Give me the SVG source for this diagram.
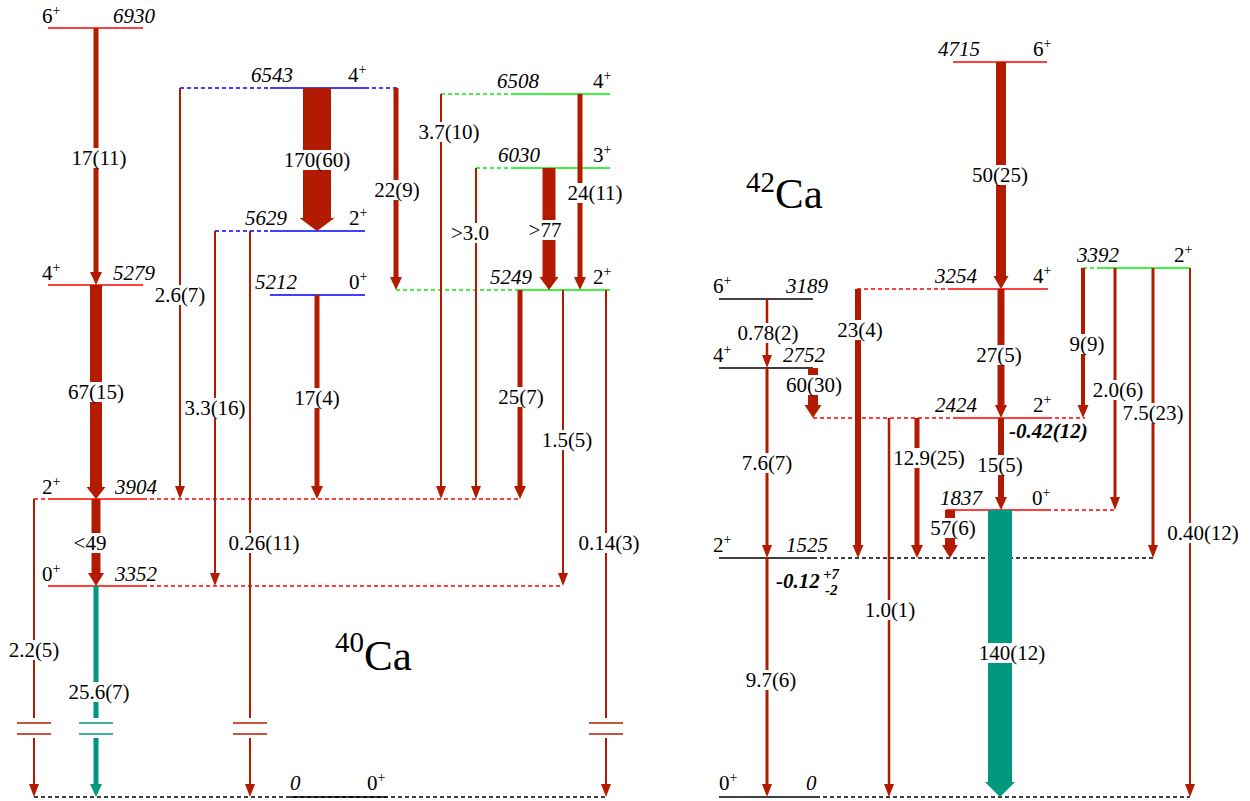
<svg xmlns="http://www.w3.org/2000/svg" width="1250" height="801" viewBox="0 0 1250 801">
<style>
text{font-family:"Liberation Serif","Times New Roman",serif;font-size:21px;fill:#000}
.e{font-style:italic}
.lbl{text-anchor:middle}
.end{text-anchor:end}
.bi{font-weight:bold;font-style:italic}
.sm{font-size:15px}
.big{font-size:43px}
.r{stroke:#ff0000;stroke-width:1.6;fill:none}
.b{stroke:#0000ff;stroke-width:1.6;fill:none}
.g{stroke:#00f000;stroke-width:1.6;fill:none}
.k{stroke:#000;stroke-width:1.6;fill:none}
.d{stroke-dasharray:4,3}
.ar{stroke:#b31b00;fill:none}
.ah{fill:#b31b00}
.tl{stroke:#009980;fill:none}
.th{fill:#009980}
.bg{fill:#fff}
</style>
<rect width="1250" height="801" fill="#fff"/>

<!-- 40Ca levels -->
<g id="ca40-6930"><line class="r" x1="48" y1="28" x2="143" y2="28"/><text x="42" y="23">6<tspan font-size="14" dy="-8">+</tspan></text><text class="e end" x="155" y="23">6930</text></g>
<g id="ca40-5279"><line class="r" x1="48" y1="285" x2="143" y2="285"/><text x="42" y="280">4<tspan font-size="14" dy="-8">+</tspan></text><text class="e end" x="155" y="280">5279</text></g>
<g id="ca40-3904"><line class="r d" x1="34" y1="499" x2="48" y2="499"/><line class="r" x1="48" y1="499" x2="143" y2="499"/><line class="r d" x1="143" y1="499" x2="520" y2="499"/><text x="42" y="494">2<tspan font-size="14" dy="-8">+</tspan></text><text class="e end" x="157" y="494">3904</text></g>
<g id="ca40-3352"><line class="r" x1="48" y1="586" x2="143" y2="586"/><line class="r d" x1="143" y1="586" x2="563" y2="586"/><text x="42" y="581">0<tspan font-size="14" dy="-8">+</tspan></text><text class="e end" x="157" y="581">3352</text></g>
<g id="ca40-6543"><line class="b d" x1="180" y1="88" x2="270" y2="88"/><line class="b" x1="270" y1="88" x2="365" y2="88"/><line class="b d" x1="365" y1="88" x2="397" y2="88"/><text class="e end" x="293" y="82">6543</text><text x="348" y="82">4<tspan font-size="14" dy="-8">+</tspan></text></g>
<g id="ca40-5629"><line class="b d" x1="215" y1="231" x2="270" y2="231"/><line class="b" x1="270" y1="231" x2="365" y2="231"/><text class="e end" x="287" y="225">5629</text><text x="349" y="225">2<tspan font-size="14" dy="-8">+</tspan></text></g>
<g id="ca40-5212"><line class="b" x1="270" y1="295" x2="365" y2="295"/><text class="e end" x="297" y="289">5212</text><text x="349" y="289">0<tspan font-size="14" dy="-8">+</tspan></text></g>
<g id="ca40-6508"><line class="g d" x1="441" y1="94" x2="515" y2="94"/><line class="g" x1="515" y1="94" x2="610" y2="94"/><text class="e end" x="539" y="88">6508</text><text x="593" y="88">4<tspan font-size="14" dy="-8">+</tspan></text></g>
<g id="ca40-6030"><line class="g d" x1="476" y1="168" x2="513" y2="168"/><line class="g" x1="513" y1="168" x2="610" y2="168"/><text class="e end" x="540" y="162">6030</text><text x="593" y="162">3<tspan font-size="14" dy="-8">+</tspan></text></g>
<g id="ca40-5249"><line class="g d" x1="396" y1="290" x2="515" y2="290"/><line class="g" x1="515" y1="290" x2="610" y2="290"/><text class="e end" x="532" y="284">5249</text><text x="593" y="284">2<tspan font-size="14" dy="-8">+</tspan></text></g>
<g id="ca40-0"><line class="k d" x1="34" y1="797" x2="606" y2="797"/><line class="k" x1="290" y1="797" x2="387" y2="797"/><text class="e" x="290" y="790">0</text><text x="367" y="790">0<tspan font-size="14" dy="-8">+</tspan></text></g>
<g id="ca40-title"><text class="big" x="335" y="670"><tspan font-size="29" dy="-18">40</tspan><tspan dy="18">Ca</tspan></text></g>

<!-- 42Ca levels -->
<g id="ca42-4715"><line class="r" x1="953" y1="62" x2="1047" y2="62"/><text class="e end" x="980" y="56">4715</text><text x="1033" y="56">6<tspan font-size="14" dy="-8">+</tspan></text></g>
<g id="ca42-3254"><line class="r d" x1="857" y1="289" x2="952" y2="289"/><line class="r" x1="952" y1="289" x2="1048" y2="289"/><text class="e end" x="977" y="283">3254</text><text x="1033" y="283">4<tspan font-size="14" dy="-8">+</tspan></text></g>
<g id="ca42-3392"><line class="g d" x1="1083" y1="268" x2="1097" y2="268"/><line class="g" x1="1097" y1="268" x2="1190" y2="268"/><text class="e end" x="1119" y="262">3392</text><text x="1174" y="262">2<tspan font-size="14" dy="-8">+</tspan></text></g>
<g id="ca42-3189"><line class="k" x1="719" y1="299" x2="813" y2="299"/><text x="713" y="293">6<tspan font-size="14" dy="-8">+</tspan></text><text class="e end" x="828" y="293">3189</text></g>
<g id="ca42-2752"><line class="k" x1="719" y1="368" x2="813" y2="368"/><text x="713" y="362">4<tspan font-size="14" dy="-8">+</tspan></text><text class="e end" x="825" y="362">2752</text></g>
<g id="ca42-2424"><line class="r d" x1="813" y1="418" x2="953" y2="418"/><line class="r" x1="953" y1="418" x2="1048" y2="418"/><line class="r d" x1="1048" y1="418" x2="1085" y2="418"/><text class="e end" x="977" y="412">2424</text><text x="1033" y="412">2<tspan font-size="14" dy="-8">+</tspan></text><text class="bi" x="1009" y="438">-0.42(12)</text></g>
<g id="ca42-1837"><line class="r" x1="946" y1="510" x2="1047" y2="510"/><line class="r d" x1="1047" y1="510" x2="1115" y2="510"/><text class="e end" x="982" y="505">1837</text><text x="1032" y="505">0<tspan font-size="14" dy="-8">+</tspan></text></g>
<g id="ca42-1525"><line class="k" x1="719" y1="558" x2="813" y2="558"/><line class="k d" x1="813" y1="558" x2="1153" y2="558"/><text x="713" y="552">2<tspan font-size="14" dy="-8">+</tspan></text><text class="e end" x="828" y="552">1525</text><text class="bi" x="776" y="588">-0.12</text><text class="bi sm" x="823" y="579">+7</text><text class="bi sm" x="825" y="595">-2</text></g>
<g id="ca42-0"><line class="k" x1="719" y1="797" x2="816" y2="797"/><line class="k d" x1="816" y1="797" x2="1190" y2="797"/><text x="719" y="790">0<tspan font-size="14" dy="-8">+</tspan></text><text class="e" x="806" y="790">0</text></g>
<g id="ca42-title"><text class="big" x="746" y="208"><tspan font-size="29" dy="-16">42</tspan><tspan dy="16">Ca</tspan></text></g>

<!-- connectors -->
<g id="connectors">
<!-- 40Ca -->
<line class="ar" x1="96" y1="28" x2="96" y2="273" stroke-width="5"/><polygon class="ah" points="90,272 102,272 96,285"/>
<line class="ar" x1="96" y1="285" x2="96" y2="488" stroke-width="12"/><polygon class="ah" points="86.5,487 105.5,487 96,499"/>
<line class="ar" x1="96" y1="499" x2="96" y2="574" stroke-width="9"/><polygon class="ah" points="88,573 104,573 96,586"/>
<line class="tl" x1="96" y1="586" x2="96" y2="718" stroke-width="5"/><line class="tl" x1="96" y1="738" x2="96" y2="785" stroke-width="5"/><polygon class="th" points="90,784 102,784 96,797"/>
<line class="tl" x1="79" y1="723" x2="113" y2="723" stroke-width="1.6"/><line class="tl" x1="79" y1="734" x2="113" y2="734" stroke-width="1.6"/>
<line class="ar" x1="34" y1="499" x2="34" y2="718" stroke-width="2"/><line class="ar" x1="34" y1="738" x2="34" y2="786" stroke-width="2"/><polygon class="ah" points="29,784 39,784 34,797"/>
<line class="ar" x1="17" y1="723" x2="51" y2="723" stroke-width="1.6"/><line class="ar" x1="17" y1="734" x2="51" y2="734" stroke-width="1.6"/>
<line class="ar" x1="180" y1="88" x2="180" y2="487" stroke-width="2"/><polygon class="ah" points="175,486 185,486 180,499"/>
<line class="ar" x1="317" y1="88" x2="317" y2="219" stroke-width="28"/><polygon class="ah" points="299.5,218 334.5,218 317,231"/>
<line class="ar" x1="396" y1="88" x2="396" y2="278" stroke-width="5"/><polygon class="ah" points="390,277 402,277 396,290"/>
<line class="ar" x1="215" y1="231" x2="215" y2="574" stroke-width="2"/><polygon class="ah" points="210,573 220,573 215,586"/>
<line class="ar" x1="250" y1="231" x2="250" y2="718" stroke-width="2"/><line class="ar" x1="250" y1="738" x2="250" y2="786" stroke-width="2"/><polygon class="ah" points="245,784 255,784 250,797"/>
<line class="ar" x1="233" y1="723" x2="267" y2="723" stroke-width="1.6"/><line class="ar" x1="233" y1="734" x2="267" y2="734" stroke-width="1.6"/>
<line class="ar" x1="317" y1="295" x2="317" y2="487" stroke-width="5"/><polygon class="ah" points="311,486 323,486 317,499"/>
<line class="ar" x1="441" y1="94" x2="441" y2="487" stroke-width="2"/><polygon class="ah" points="436,486 446,486 441,499"/>
<line class="ar" x1="580" y1="94" x2="580" y2="278" stroke-width="5"/><polygon class="ah" points="574,277 586,277 580,290"/>
<line class="ar" x1="476" y1="168" x2="476" y2="487" stroke-width="2"/><polygon class="ah" points="471,486 481,486 476,499"/>
<line class="ar" x1="549" y1="168" x2="549" y2="278" stroke-width="13"/><polygon class="ah" points="539.5,277 558.5,277 549,290"/>
<line class="ar" x1="520" y1="290" x2="520" y2="487" stroke-width="5"/><polygon class="ah" points="514,486 526,486 520,499"/>
<line class="ar" x1="563" y1="290" x2="563" y2="574" stroke-width="2"/><polygon class="ah" points="558,573 568,573 563,586"/>
<line class="ar" x1="606" y1="290" x2="606" y2="718" stroke-width="2"/><line class="ar" x1="606" y1="738" x2="606" y2="786" stroke-width="2"/><polygon class="ah" points="601,784 611,784 606,797"/>
<line class="ar" x1="589" y1="723" x2="623" y2="723" stroke-width="1.6"/><line class="ar" x1="589" y1="734" x2="623" y2="734" stroke-width="1.6"/>
<!-- 42Ca -->
<line class="ar" x1="1001" y1="62" x2="1001" y2="277" stroke-width="10"/><polygon class="ah" points="993.5,276 1008.5,276 1001,289"/>
<line class="ar" x1="1001" y1="289" x2="1001" y2="406" stroke-width="7"/><polygon class="ah" points="995,405 1007,405 1001,418"/>
<line class="ar" x1="858" y1="289" x2="858" y2="546" stroke-width="6"/><polygon class="ah" points="852.5,545 863.5,545 858,558"/>
<line class="ar" x1="1001" y1="418" x2="1001" y2="498" stroke-width="6"/><polygon class="ah" points="995,497 1007,497 1001,510"/>
<line class="ar" x1="889" y1="418" x2="889" y2="786" stroke-width="2.5"/><polygon class="ah" points="884,784 894,784 889,797"/>
<line class="ar" x1="917" y1="418" x2="917" y2="546" stroke-width="5"/><polygon class="ah" points="911,545 923,545 917,558"/>
<rect class="th" x="988" y="510" width="24" height="274"/><polygon class="th" points="985,782 1015,782 1000,797"/>
<line class="ar" x1="950" y1="510" x2="950" y2="546" stroke-width="10"/><polygon class="ah" points="942,545 958,545 950,558"/>
<line class="ar" x1="767" y1="299" x2="767" y2="356" stroke-width="2.5"/><polygon class="ah" points="762,355 772,355 767,368"/>
<line class="ar" x1="813" y1="368" x2="813" y2="406" stroke-width="10"/><polygon class="ah" points="804.5,405 821.5,405 813,418"/>
<line class="ar" x1="767" y1="368" x2="767" y2="546" stroke-width="3"/><polygon class="ah" points="762,545 772,545 767,558"/>
<line class="ar" x1="767" y1="558" x2="767" y2="786" stroke-width="3"/><polygon class="ah" points="762,784 772,784 767,797"/>
<line class="ar" x1="1083" y1="268" x2="1083" y2="406" stroke-width="4"/><polygon class="ah" points="1077.5,405 1088.5,405 1083,418"/>
<line class="ar" x1="1115" y1="268" x2="1115" y2="498" stroke-width="3"/><polygon class="ah" points="1110,497 1120,497 1115,510"/>
<line class="ar" x1="1153" y1="268" x2="1153" y2="546" stroke-width="3"/><polygon class="ah" points="1148,545 1158,545 1153,558"/>
<line class="ar" x1="1190" y1="268" x2="1190" y2="786" stroke-width="2"/><polygon class="ah" points="1185,784 1195,784 1190,797"/>

<!-- label backgrounds -->
<rect class="bg" x="70" y="148" width="58" height="20"/>
<rect class="bg" x="67" y="382" width="58" height="20"/>
<rect class="bg" x="72" y="533" width="36" height="20"/>
<rect class="bg" x="68" y="682" width="63" height="20"/>
<rect class="bg" x="8" y="640" width="53" height="20"/>
<rect class="bg" x="154" y="285" width="53" height="20"/>
<rect class="bg" x="283" y="150" width="68" height="20"/>
<rect class="bg" x="373" y="180" width="48" height="20"/>
<rect class="bg" x="184" y="398" width="63" height="20"/>
<rect class="bg" x="227" y="533" width="74" height="20"/>
<rect class="bg" x="293" y="388" width="48" height="20"/>
<rect class="bg" x="418" y="122" width="63" height="20"/>
<rect class="bg" x="566" y="183" width="58" height="20"/>
<rect class="bg" x="450" y="223" width="40" height="20"/>
<rect class="bg" x="527" y="220" width="36" height="20"/>
<rect class="bg" x="497" y="387" width="48" height="20"/>
<rect class="bg" x="541" y="430" width="53" height="20"/>
<rect class="bg" x="578" y="533" width="63" height="20"/>
<rect class="bg" x="971" y="165" width="58" height="20"/>
<rect class="bg" x="975" y="345" width="48" height="20"/>
<rect class="bg" x="836" y="320" width="48" height="20"/>
<rect class="bg" x="976" y="455" width="48" height="20"/>
<rect class="bg" x="864" y="600" width="53" height="20"/>
<rect class="bg" x="892" y="448" width="74" height="20"/>
<rect class="bg" x="978" y="643" width="68" height="20"/>
<rect class="bg" x="929" y="518" width="48" height="20"/>
<rect class="bg" x="737" y="323" width="63" height="20"/>
<rect class="bg" x="785" y="375" width="58" height="20"/>
<rect class="bg" x="741" y="453" width="53" height="20"/>
<rect class="bg" x="745" y="670" width="53" height="20"/>
<rect class="bg" x="1069" y="334" width="37" height="20"/>
<rect class="bg" x="1092" y="380" width="53" height="20"/>
<rect class="bg" x="1122" y="403" width="63" height="20"/>
<rect class="bg" x="1166" y="523" width="74" height="20"/>

<!-- labels -->
<text class="lbl" x="99" y="165">17(11)</text>
<text class="lbl" x="96" y="399">67(15)</text>
<text class="lbl" x="90" y="550">&lt;49</text>
<text class="lbl" x="99" y="699">25.6(7)</text>
<text class="lbl" x="34" y="657">2.2(5)</text>
<text class="lbl" x="180" y="302">2.6(7)</text>
<text class="lbl" x="317" y="167">170(60)</text>
<text class="lbl" x="397" y="197">22(9)</text>
<text class="lbl" x="215" y="415">3.3(16)</text>
<text class="lbl" x="264" y="550">0.26(11)</text>
<text class="lbl" x="317" y="405">17(4)</text>
<text class="lbl" x="449" y="139">3.7(10)</text>
<text class="lbl" x="595" y="200">24(11)</text>
<text class="lbl" x="470" y="240">&gt;3.0</text>
<text class="lbl" x="545" y="237">&gt;77</text>
<text class="lbl" x="521" y="404">25(7)</text>
<text class="lbl" x="567" y="447">1.5(5)</text>
<text class="lbl" x="609" y="550">0.14(3)</text>
<text class="lbl" x="1000" y="182">50(25)</text>
<text class="lbl" x="999" y="362">27(5)</text>
<text class="lbl" x="860" y="337">23(4)</text>
<text class="lbl" x="1000" y="472">15(5)</text>
<text class="lbl" x="890" y="617">1.0(1)</text>
<text class="lbl" x="929" y="465">12.9(25)</text>
<text class="lbl" x="1012" y="660">140(12)</text>
<text class="lbl" x="953" y="535">57(6)</text>
<text class="lbl" x="768" y="340">0.78(2)</text>
<text class="lbl" x="814" y="392">60(30)</text>
<text class="lbl" x="767" y="470">7.6(7)</text>
<text class="lbl" x="771" y="687">9.7(6)</text>
<text class="lbl" x="1087" y="351">9(9)</text>
<text class="lbl" x="1118" y="397">2.0(6)</text>
<text class="lbl" x="1153" y="420">7.5(23)</text>
<text class="lbl" x="1203" y="540">0.40(12)</text>
</g>
</svg>
